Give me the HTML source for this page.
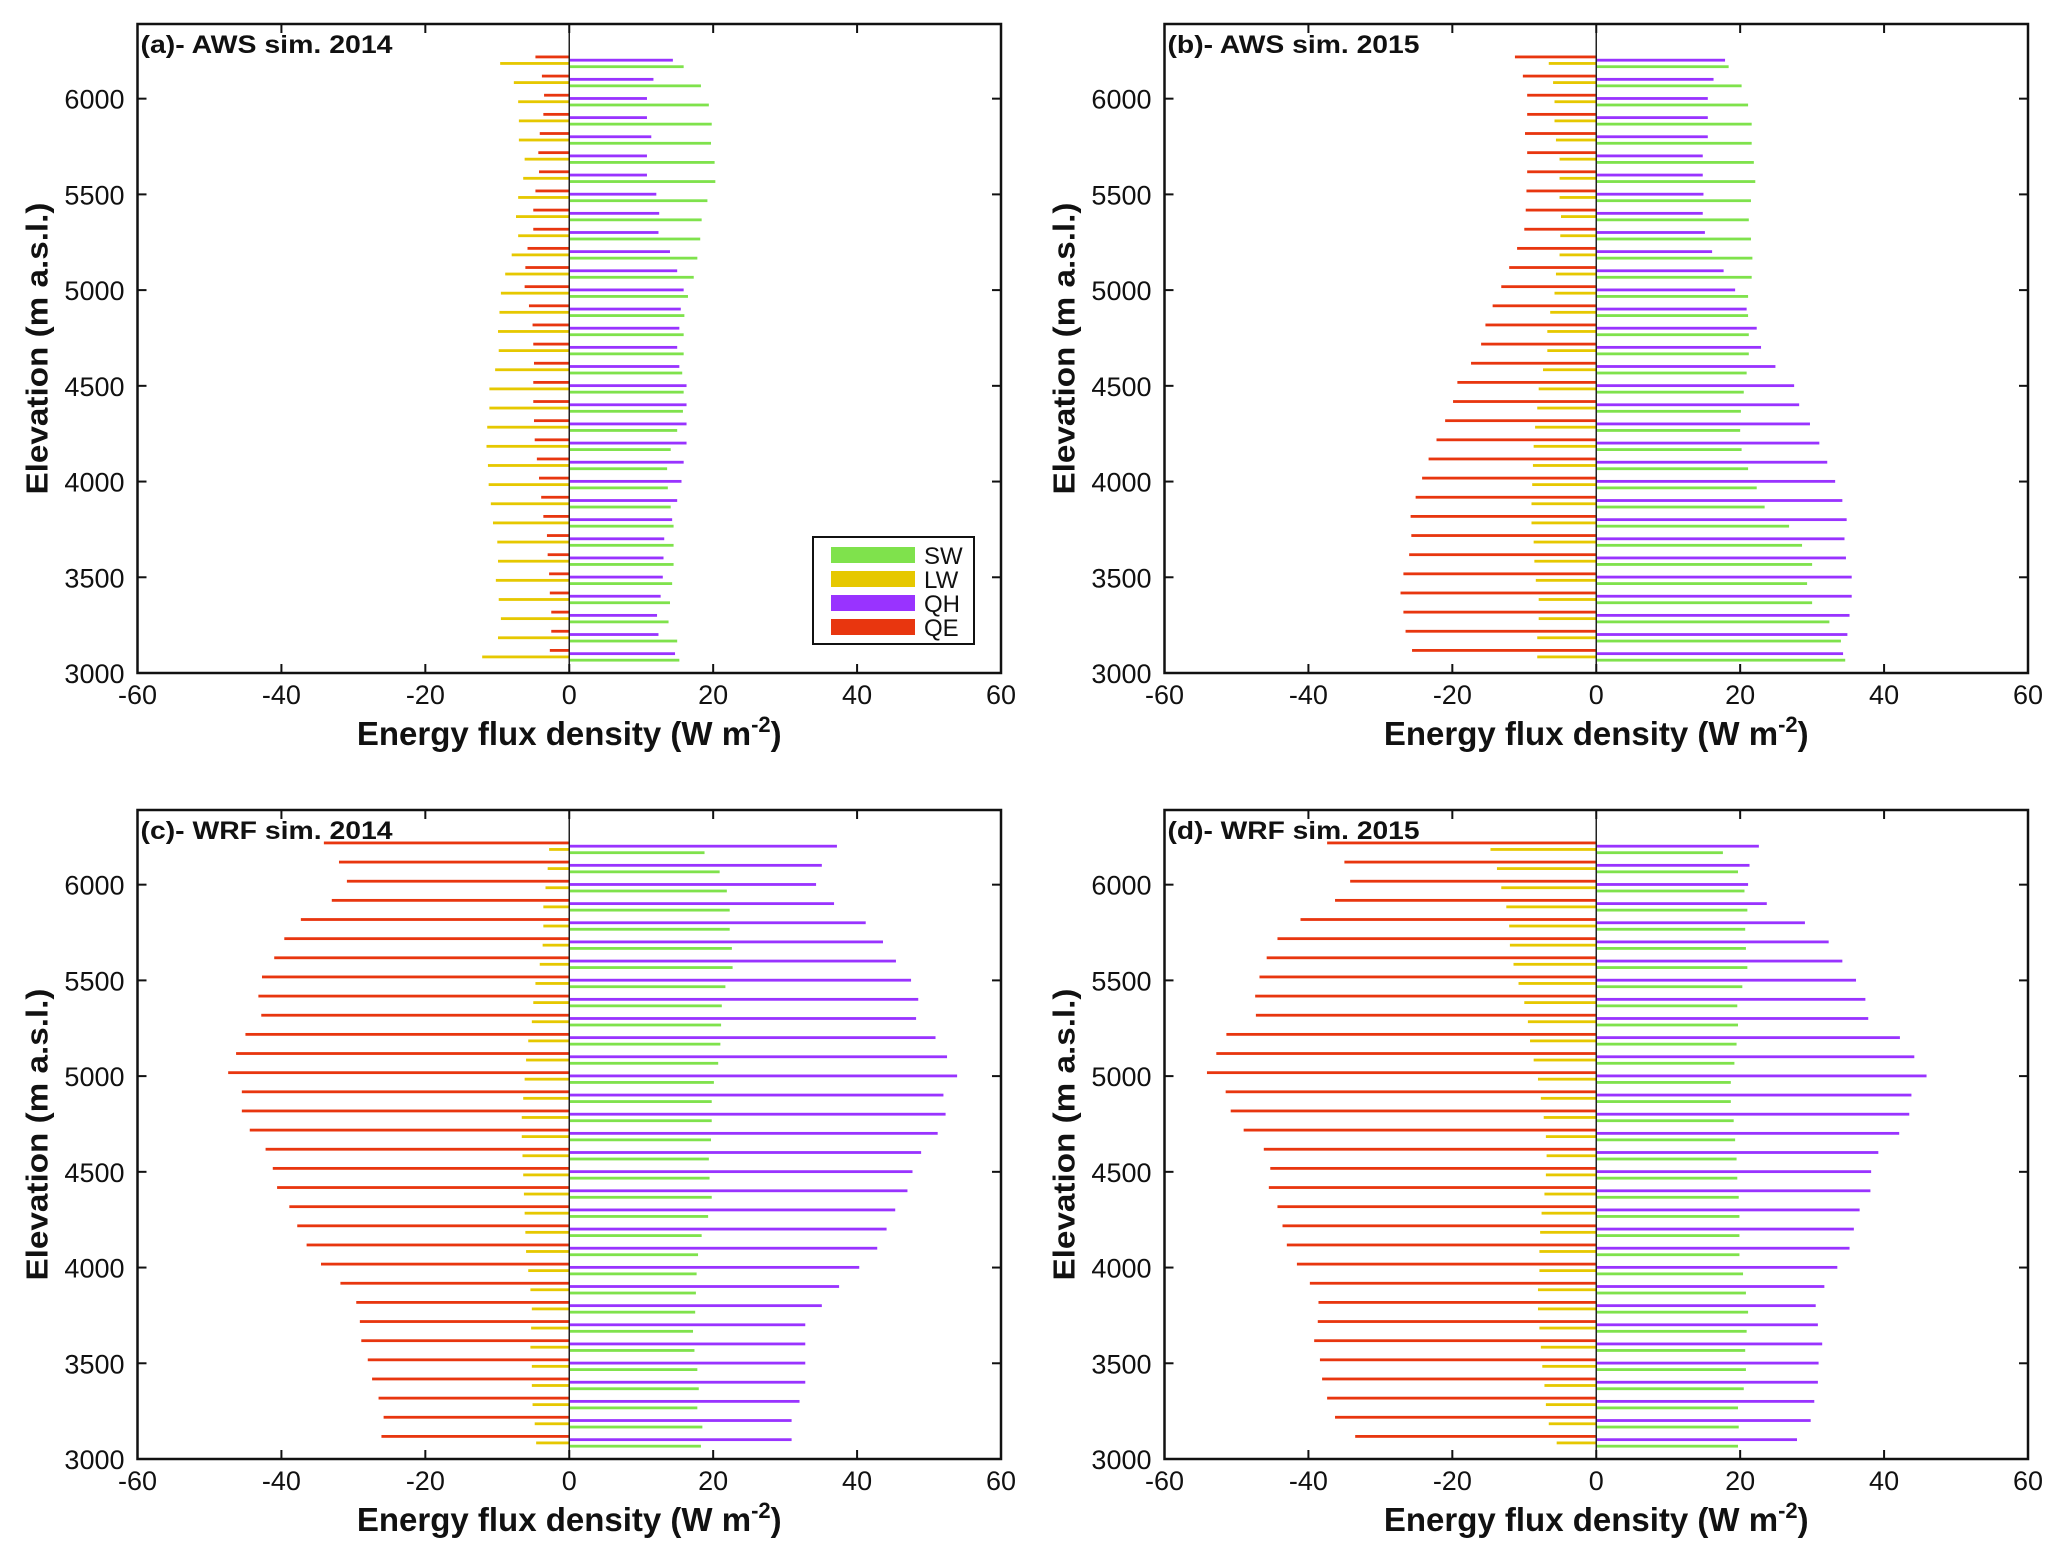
<!DOCTYPE html>
<html><head><meta charset="utf-8">
<style>
html,body{margin:0;padding:0;background:#fff;}
svg{display:block;}
text{font-family:"Liberation Sans",Arial,sans-serif;fill:#111;}
</style></head>
<body>
<svg id="fig" width="2068" height="1565" viewBox="0 0 2068 1565" xmlns="http://www.w3.org/2000/svg"></svg>
<script>
// elevation bins (top to bottom)
const elevations = [6200,6100,6000,5900,5800,5700,5600,5500,5400,5300,5200,5100,5000,4900,4800,4700,4600,4500,4400,4300,4200,4100,4000,3900,3800,3700,3600,3500,3400,3300,3200,3100];
const xTicks = [-60,-40,-20,0,20,40,60];
const yTicks = [3000,3500,4000,4500,5000,5500,6000];
const seriesNames = ["SW","LW","QH","QE"];
const panelTitles = ["(a)- AWS sim. 2014","(b)- AWS sim. 2015","(c)- WRF sim. 2014","(d)- WRF sim. 2015"];

// Panel a - AWS 2014
const aQE = [-4.7,-3.8,-3.5,-3.6,-4.1,-4.3,-4.2,-4.7,-5.0,-5.0,-5.8,-6.1,-6.2,-5.6,-5.1,-5.0,-4.9,-5.0,-5.0,-4.9,-4.8,-4.5,-4.2,-3.9,-3.6,-3.1,-3.0,-2.8,-2.7,-2.5,-2.5,-2.7];
const aLW = [-9.6,-7.7,-7.1,-7.0,-7.0,-6.2,-6.4,-7.1,-7.4,-7.1,-8.0,-8.9,-9.5,-9.7,-9.9,-9.8,-10.3,-11.1,-11.1,-11.4,-11.5,-11.3,-11.2,-10.9,-10.6,-10.0,-9.9,-10.2,-9.8,-9.5,-9.9,-12.1];
const aQH = [14.4,11.7,10.8,10.8,11.4,10.8,10.8,12.1,12.5,12.4,14.0,15.0,15.9,15.5,15.3,15.0,15.3,16.3,16.3,16.3,16.3,15.9,15.6,15.0,14.3,13.2,13.1,13.0,12.7,12.2,12.4,14.7];
const aSW = [15.9,18.3,19.4,19.8,19.7,20.2,20.3,19.2,18.4,18.2,17.8,17.3,16.5,16.0,15.9,15.9,15.7,15.9,15.8,15.0,14.1,13.6,13.7,14.1,14.5,14.5,14.5,14.3,14.0,13.8,15.0,15.3];
// Panel b - AWS 2015
const bQE = [-11.3,-10.2,-9.6,-9.6,-9.9,-9.6,-9.6,-9.7,-9.8,-10.0,-11.0,-12.1,-13.2,-14.4,-15.4,-16.0,-17.4,-19.3,-19.9,-21.0,-22.2,-23.3,-24.2,-25.1,-25.8,-25.7,-26.0,-26.8,-27.2,-26.8,-26.5,-25.6];
const bLW = [-6.6,-6.0,-5.8,-5.8,-5.6,-5.1,-5.1,-5.1,-4.9,-5.0,-5.1,-5.6,-5.8,-6.4,-6.8,-6.8,-7.4,-8.0,-8.2,-8.5,-8.7,-8.8,-8.9,-9.0,-9.0,-8.7,-8.6,-8.4,-8.0,-8.0,-8.2,-8.2];
const bQH = [17.9,16.3,15.5,15.5,15.5,14.8,14.8,14.9,14.8,15.1,16.1,17.7,19.3,20.9,22.3,22.9,24.9,27.5,28.2,29.7,31.0,32.1,33.2,34.2,34.8,34.5,34.7,35.5,35.5,35.2,34.9,34.3];
const bSW = [18.4,20.2,21.1,21.6,21.6,21.9,22.1,21.5,21.2,21.5,21.7,21.6,21.1,21.1,21.2,21.2,20.9,20.5,20.1,20.0,20.2,21.1,22.3,23.4,26.8,28.6,30.0,29.3,30.0,32.4,34.0,34.6];
// Panel c - WRF 2014
const cQE = [-34.1,-32.0,-30.9,-33.0,-37.3,-39.6,-41.0,-42.7,-43.2,-42.8,-45.0,-46.3,-47.4,-45.5,-45.5,-44.4,-42.2,-41.2,-40.6,-38.9,-37.8,-36.5,-34.5,-31.8,-29.6,-29.1,-28.9,-28.0,-27.4,-26.5,-25.8,-26.1];
const cLW = [-2.8,-3.0,-3.3,-3.6,-3.6,-3.7,-4.1,-4.7,-5.0,-5.2,-5.7,-6.0,-6.2,-6.4,-6.6,-6.6,-6.5,-6.4,-6.3,-6.2,-6.1,-6.0,-5.7,-5.4,-5.2,-5.3,-5.4,-5.2,-5.2,-5.1,-4.8,-4.6];
const cQH = [37.2,35.1,34.3,36.8,41.2,43.6,45.4,47.5,48.5,48.2,50.9,52.5,53.9,52.0,52.3,51.2,48.9,47.7,47.0,45.3,44.1,42.8,40.3,37.5,35.1,32.8,32.8,32.8,32.8,32.0,30.9,30.9];
const cSW = [18.8,20.9,21.9,22.3,22.3,22.6,22.7,21.7,21.2,21.1,21.0,20.7,20.1,19.8,19.8,19.7,19.4,19.5,19.8,19.3,18.4,17.9,17.7,17.6,17.5,17.2,17.4,17.8,18.0,17.8,18.5,18.3];
// Panel d - WRF 2015
const dQE = [-37.4,-35.0,-34.2,-36.3,-41.1,-44.3,-45.8,-46.8,-47.4,-47.3,-51.4,-52.8,-54.1,-51.5,-50.8,-49.0,-46.2,-45.3,-45.5,-44.3,-43.6,-43.0,-41.6,-39.8,-38.6,-38.7,-39.2,-38.4,-38.1,-37.4,-36.3,-33.5];
const dLW = [-14.7,-13.8,-13.2,-12.5,-12.1,-12.0,-11.5,-10.8,-10.0,-9.5,-9.2,-8.7,-8.1,-7.7,-7.3,-7.0,-6.9,-7.0,-7.2,-7.6,-7.8,-7.9,-7.9,-8.1,-8.1,-7.9,-7.7,-7.5,-7.2,-7.0,-6.6,-5.5];
const dQH = [22.6,21.3,21.1,23.7,29.0,32.3,34.2,36.1,37.4,37.8,42.2,44.2,45.9,43.8,43.5,42.1,39.2,38.2,38.1,36.6,35.8,35.2,33.5,31.7,30.5,30.8,31.4,30.9,30.8,30.3,29.8,27.9];
const dSW = [17.6,19.7,20.6,21.0,20.7,20.8,21.0,20.3,19.6,19.7,19.5,19.2,18.7,18.7,19.1,19.3,19.5,19.6,19.8,19.9,19.9,19.9,20.4,20.8,21.1,20.9,20.7,20.8,20.5,19.7,19.8,19.7];

const NS = "http://www.w3.org/2000/svg";
const svg = document.getElementById("fig");
function mk(tag, attrs, parent){
  const e = document.createElementNS(NS, tag);
  for (const k in attrs) e.setAttribute(k, attrs[k]);
  (parent||svg).appendChild(e);
  return e;
}
const colors = {SW:"#7fe24c", LW:"#e6c800", QH:"#9933ff", QE:"#e8360f"};
const offsets = {QE:18, QH:1, LW:-16, SW:-33};

const panels = [
  {key:"a", x0:137.5, y0:24,  data:{QE:aQE,LW:aLW,QH:aQH,SW:aSW}, legend:true},
  {key:"b", x0:1164.5, y0:24, data:{QE:bQE,LW:bLW,QH:bQH,SW:bSW}},
  {key:"c", x0:137.5, y0:810, data:{QE:cQE,LW:cLW,QH:cQH,SW:cSW}},
  {key:"d", x0:1164.5, y0:810,data:{QE:dQE,LW:dLW,QH:dQH,SW:dSW}}
];
const W = 863.5, H = 649;
const xMin=-60, xMax=60, yMin=3000, yMax=6390;

panels.forEach((p, pi) => {
  const g = mk("g", {});
  
  
  const xs = v => p.x0 + (v - xMin) / (xMax - xMin) * W;
  const ys = v => p.y0 + H - (v - yMin) / (yMax - yMin) * H;

  ["QE","QH","LW","SW"].forEach(s => {
    const vals = p.data[s];
    vals.forEach((v, i) => {
      const y = ys(elevations[i] + offsets[s]);
      const x1 = xs(0), x2 = xs(v);
      const r = mk("rect", {x:Math.min(x1,x2), y:y-1.4, width:Math.abs(x2-x1), height:2.8, fill:colors[s]}, g);
      
      
    });
  });
  const zl = mk("line", {x1:xs(0), x2:xs(0), y1:p.y0, y2:p.y0+H, stroke:"#222", "stroke-width":1.5}, g);
  
  

  const fr = mk("rect", {x:p.x0, y:p.y0, width:W, height:H, fill:"none", stroke:"#111", "stroke-width":2.5}, g);
  
  

  xTicks.forEach(t => {
    const x = xs(t);
    mk("line", {x1:x,x2:x,y1:p.y0+H,y2:p.y0+H-9,stroke:"#111","stroke-width":2}, g);
    mk("line", {x1:x,x2:x,y1:p.y0,y2:p.y0+9,stroke:"#111","stroke-width":2}, g);
    const tx = mk("text", {x:x, y:p.y0+H+31, "text-anchor":"middle", "font-size":27}, g);
    tx.textContent = t;
    
    
  });
  yTicks.forEach(t => {
    const y = ys(t);
    mk("line", {x1:p.x0,x2:p.x0+9,y1:y,y2:y,stroke:"#111","stroke-width":2}, g);
    mk("line", {x1:p.x0+W,x2:p.x0+W-9,y1:y,y2:y,stroke:"#111","stroke-width":2}, g);
    const tx = mk("text", {x:p.x0-13, y:y+10, "text-anchor":"end", "font-size":27}, g);
    tx.textContent = t;
    
    
  });

  const tt = mk("text", {x:p.x0+3, y:p.y0+29, "font-size":25, "font-weight":"bold", textLength:252, lengthAdjust:"spacingAndGlyphs"}, g);
  tt.textContent = panelTitles[pi];
  
  

  const xl = mk("text", {x:xs(0), y:p.y0+H+72, "text-anchor":"middle", "font-size":33, "font-weight":"bold"}, g);
  
  
  const t1 = mk("tspan", {}, xl); t1.textContent = "Energy flux density (W m";
  const t2 = mk("tspan", {dy:-13, "font-size":22}, xl); t2.textContent = "-2";
  const t3 = mk("tspan", {dy:13}, xl); t3.textContent = ")";

  const cy = p.y0 + H/2;
  const cx = p.x0 - 90;
  const yl = mk("text", {x:cx, y:cy, "text-anchor":"middle", "font-size":31, "font-weight":"bold", transform:`rotate(-90 ${cx} ${cy})`, textLength:292, lengthAdjust:"spacingAndGlyphs"}, g);
  yl.textContent = "Elevation (m a.s.l.)";
  
  

  if (p.legend){
    const lg = mk("g", {}, g);
    
    
    mk("rect", {x:813, y:537, width:161, height:107, fill:"#fff", stroke:"#111", "stroke-width":2}, lg);
    seriesNames.forEach((s, i) => {
      const yc = 555 + i*24;
      const sw = mk("rect", {x:831, y:yc-8, width:84, height:16, fill:colors[s]}, lg);
      
      
      const lt = mk("text", {x:924, y:yc+9, "font-size":24}, lg);
      lt.textContent = s;
      
      
    });
  }
});
</script>
</body></html>
